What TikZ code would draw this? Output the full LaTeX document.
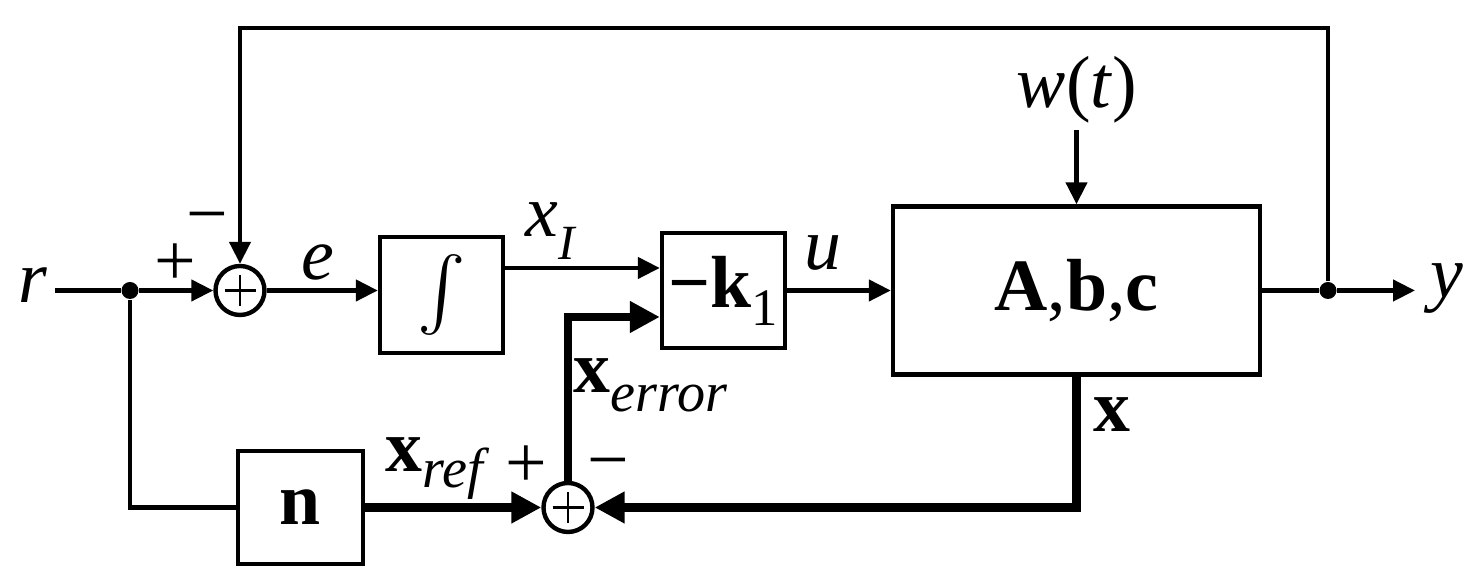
\documentclass[tikz,border=0pt]{standalone}
\usepackage{exscale}
\usepackage{fontspec}
\setmainfont{Liberation Serif}
\usepackage{tikz}
\usetikzlibrary{arrows.meta,positioning}
\newcommand{\lowsub}[3][0.2cm]{\raisebox{-#1}{\fontsize{#2}{#2}\selectfont #3}}

\begin{document}
\begin{tikzpicture}[node distance = 0.5cm, >={Triangle[length=0.22cm, width=0.21cm]}]
        \tikzstyle{block} = [rectangle, draw, line width = 1.25pt, inner sep = 0pt, font = \fontsize{21}{21}\selectfont]
        \tikzstyle{summer} = [circle, draw, line width = 1.25pt, minimum size = 0.49cm, inner sep = 0pt,
            path picture = {\draw [line width = 0.8pt] ([xshift=-0.155cm]path picture bounding box.center) -- ++(0.31,0)
            ([yshift=-0.155cm]path picture bounding box.center) -- ++(0,0.31);}]
        \tikzstyle{tag} = [inner sep = 0pt, anchor = base, font = \fontsize{21}{21}\selectfont]
        \tikzstyle{signtag} = [inner sep = 0pt, anchor = base, font = \fontsize{21}{21}\selectfont]
        \tikzstyle{joint} = [circle, fill, inner sep = 0pt, minimum size = 0.17cm]
        \tikzstyle{signal} = [line width = 1.25pt]
        \tikzstyle{bus} = [line width = 2.3pt, -{Triangle[length=0.3cm, width=0.3cm]}]
        \useasboundingbox (0,0) rectangle (14.83,5.87);
        \coordinate (rin) at (0.55,2.965);
        \node at (0.33,2.84) (rtag) [tag] {\textit{r}};
        \node at (1.30,2.965) (rsplit) [joint] {};
        \node at (2.40,2.965) (sum1) [summer] {};
        \node at (4.415,2.92) (integ) [block, minimum width = 1.23cm, minimum height = 1.16cm] {$\int$};
        \node at (7.235,2.965) (gain) [block, minimum width = 1.23cm, minimum height = 1.15cm] {\textbf{−k}\lowsub[0.18cm]{15}{1}};
        \node at (10.765,2.965) (plant) [block, minimum width = 3.67cm, minimum height = 1.68cm] {\textbf{A},\textbf{b},\textbf{c}};
        \node at (13.28,2.965) (ysplit) [joint] {};
        \coordinate (yout) at (14.15,2.965);
        \node at (14.47,2.89) (ytag) [tag] {\textit{y}};
        \node at (3.005,0.795) (ngain) [block, minimum width = 1.25cm, minimum height = 1.13cm] {\textbf{n}};
        \node at (5.68,0.795) (sum2) [summer] {};
        \node at (10.77,4.79) (wtag) [tag] {\textit{w}(\textit{t})};
        \coordinate (win) at (10.765,4.57);
        % signal labels
        \node at (3.18,3.07) (etag) [tag] {\textit{e}};
        \node at (5.25,3.50) (xitag) [tag, anchor = base west] {\textit{x}\lowsub[0.23cm]{14}{\textit{I}}};
        \node at (8.23,3.17) (utag) [tag] {\textit{u}};
        \node at (11.12,1.55) (xtag) [tag] {\textbf{x}};
        \node at (3.85,1.15) (xreftag) [tag, anchor = base west] {\textbf{x}\lowsub[0.16cm]{16}{\textit{ref}}};
        \node at (5.73,1.94) (xerrtag) [tag, anchor = base west] {\textbf{x}\lowsub[0.19cm]{16}{\textit{error}}};
        \node at (1.75,3.01) (plus1) [signtag] {+};
        \node at (2.07,3.48) (minus1) [signtag] {−};
        \node at (5.26,0.99) (plus2) [signtag] {+};
        \node at (6.08,1.02) (minus2) [signtag] {−};
        % connectors
        \draw [signal] (rin) -- (rsplit);
        \draw [signal, ->] (rsplit) -- (sum1);
        \draw [signal, ->] (sum1) -- (sum1 -| integ.west);
        \coordinate (xi) at ([yshift=0.27cm]integ.east);
        \draw [signal, ->] (xi) -- (xi -| gain.west);
        \draw [signal, ->] (gain) -- (plant);
        \draw [signal] (plant) -- (ysplit);
        \draw [signal, ->] (ysplit) -- (yout);
        \draw [signal, ->] (ysplit) -- ++(0,2.625) coordinate (fbtop) -- (fbtop -| sum1) -- (sum1);
        \draw [signal, ->] (win) -- (plant);
        \draw [signal] (rsplit) -- (rsplit |- ngain) -- (ngain);
        \draw [bus] (ngain) -- (sum2);
        \draw [bus] (plant) -- (plant |- sum2) -- (sum2);
        \coordinate (errin) at ([yshift=-0.265cm]gain.west);
        \draw [bus] (sum2) -- (sum2 |- errin) -- (errin);
    \end{tikzpicture}
\end{document}
